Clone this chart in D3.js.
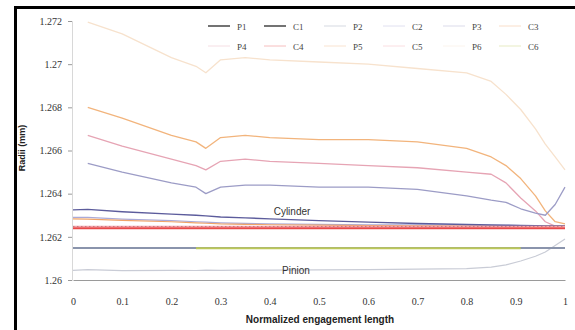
<!DOCTYPE html>
<html>
<head>
<meta charset="utf-8">
<script src="https://cdn.jsdelivr.net/npm/d3@7"></script>
<style>
  body { margin: 0; background: #fff; }
  svg { display: block; font-family: "Liberation Sans", Arial, sans-serif; }
</style>
</head>
<body>
<svg width="575" height="330"></svg>
<script>
// normalized engagement length samples
const xs = [0, 0.03, 0.1, 0.2, 0.25, 0.27, 0.3, 0.35, 0.4, 0.5, 0.6, 0.7, 0.8, 0.85, 0.88, 0.91, 0.94, 0.96, 0.98, 1.0];

// radii (mm) per series
const P6 = [null, 1.27195, 1.2714, 1.2703, 1.2699, 1.2696, 1.2702, 1.2703, 1.2702, 1.2701, 1.2700, 1.2698, 1.2696, 1.2692, 1.2686, 1.2679, 1.2670, 1.2663, 1.2657, 1.2651];
const P5 = [null, 1.2680, 1.2675, 1.2667, 1.2664, 1.2661, 1.2666, 1.2667, 1.2666, 1.2665, 1.2665, 1.2664, 1.2661, 1.2657, 1.2653, 1.2647, 1.2639, 1.2632, 1.2627, 1.2626];
const P4 = [null, 1.2667, 1.2662, 1.2656, 1.2653, 1.2651, 1.2655, 1.2656, 1.2655, 1.2654, 1.2653, 1.2652, 1.2650, 1.2649, 1.2645, 1.2638, 1.2632, 1.2627, 1.2625, 1.2625];
const P3 = [null, 1.2654, 1.2650, 1.2645, 1.2643, 1.2640, 1.2643, 1.2644, 1.2644, 1.2643, 1.2643, 1.2642, 1.2639, 1.2637, 1.2636, 1.2633, 1.2631, 1.2630, 1.2635, 1.2643];
const C1 = [1.26325, 1.26327, 1.26316, 1.26305, 1.2630, 1.26297, 1.26292, 1.26288, 1.26283, 1.26275, 1.26268, 1.26262, 1.26257, 1.26255, 1.26254, 1.26253, 1.26252, 1.26251, 1.2625, 1.2625];
const C2 = [1.2629, 1.2629, 1.26282, 1.26275, 1.2627, 1.26268, 1.26265, 1.26262, 1.2626, 1.26258, 1.26256, 1.26255, 1.26254, 1.26253, 1.26253, 1.26252, 1.26252, 1.26251, 1.26251, 1.2625];
const C3 = [1.26283, 1.26282, 1.26276, 1.2627, 1.26265, 1.26263, 1.2626, 1.26258, 1.26256, 1.26254, 1.26252, 1.26251, 1.2625, 1.2625, 1.2625, 1.2625, 1.2625, 1.2625, 1.2625, 1.2625];
const C5 = [1.26248, 1.26248, 1.26248, 1.26248, 1.26248, 1.26248, 1.26248, 1.26248, 1.26248, 1.26248, 1.26248, 1.26248, 1.26248, 1.26248, 1.26248, 1.26248, 1.26248, 1.26248, 1.26248, 1.26248];
const C4 = [1.2624, 1.2624, 1.2624, 1.2624, 1.2624, 1.2624, 1.2624, 1.2624, 1.2624, 1.2624, 1.2624, 1.2624, 1.2624, 1.2624, 1.2624, 1.2624, 1.2624, 1.2624, 1.2624, 1.2624];
const P2 = [1.26148, 1.26148, 1.26148, 1.26148, 1.26148, 1.26148, 1.26148, 1.26148, 1.26148, 1.26148, 1.26148, 1.26148, 1.26148, 1.26148, 1.26148, 1.26148, 1.26148, 1.26148, 1.26148, 1.26148];
const C6 = [null, null, null, null, 1.26147, 1.26147, 1.26147, 1.26147, 1.26147, 1.26147, 1.26147, 1.26147, 1.26147, 1.26147, 1.26147, 1.26147, null, null, null, null];
const P1 = [1.26045, 1.26048, 1.26043, 1.26045, 1.26044, 1.26046, 1.26045, 1.26046, 1.26046, 1.26047, 1.26048, 1.2605, 1.26053, 1.2606, 1.2607, 1.26088, 1.2611, 1.2613, 1.2616, 1.2619];

const legendNames = ["P1", "C1", "P2", "C2", "P3", "C3", "P4", "C4", "P5", "C5", "P6", "C6"];
const yTicks = [1.26, 1.262, 1.264, 1.266, 1.268, 1.27, 1.272];
const yTickLabels = ["1.26", "1.262", "1.264", "1.266", "1.268", "1.27", "1.272"];
const xTicks = [0, 0.1, 0.2, 0.3, 0.4, 0.5, 0.6, 0.7, 0.8, 0.9, 1];
const xTickLabels = ["0", "0.1", "0.2", "0.3", "0.4", "0.5", "0.6", "0.7", "0.8", "0.9", "1"];

const series = {
  P1: { v: P1, color: "#c9ccd6", w: 1.2 },
  C1: { v: C1, color: "#5c5c9c", w: 1.4 },
  P2: { v: P2, color: "#8a94ac", w: 2 },
  C2: { v: C2, color: "#aaaad8", w: 1.2 },
  P3: { v: P3, color: "#9c9cc6", w: 1.3 },
  C3: { v: C3, color: "#f0a468", w: 1.2 },
  P4: { v: P4, color: "#e6a4b4", w: 1.3 },
  C4: { v: C4, color: "#e84848", w: 2 },
  P5: { v: P5, color: "#f2b47c", w: 1.3 },
  C5: { v: C5, color: "#f4a4ac", w: 1.5 },
  P6: { v: P6, color: "#f7e2cd", w: 1.3 },
  C6: { v: C6, color: "#bcc858", w: 2 }
};
const drawOrder = ["P6", "P5", "P4", "P3", "P1", "P2", "C6", "C2", "C3", "C1", "C5", "C4"];

const svg = d3.select("svg");

const x = d3.scaleLinear().domain([0, 1]).range([73, 565]);
const y = d3.scaleLinear().domain([1.26, 1.272]).range([280, 21]);

// frame (only top and left edges show in the crop)
svg.append("path")
  .attr("d", "M15.5,330 L15.5,7.5 L575,7.5")
  .attr("fill", "none")
  .attr("stroke", "#000")
  .attr("stroke-width", 3);

// y axis
const yAxis = svg.append("g")
  .attr("transform", "translate(72,0)")
  .call(d3.axisLeft(y).tickValues(yTicks).tickSize(4).tickPadding(6)
    .tickFormat((d, i) => yTickLabels[i]));
yAxis.select(".domain").attr("stroke", "#d8d8d8");
yAxis.selectAll(".tick line").attr("stroke", "#999");
yAxis.selectAll(".tick text").attr("fill", "#333").style("font-size", "10px")
  .style("font-family", "'Liberation Serif', serif");

// x axis
const xAxis = svg.append("g")
  .attr("transform", "translate(0,280)")
  .call(d3.axisBottom(x).tickValues(xTicks).tickSize(0).tickPadding(18)
    .tickFormat((d, i) => xTickLabels[i]));
xAxis.select(".domain").attr("stroke", "#9a9a9a");
xAxis.selectAll(".tick text").attr("fill", "#333").style("font-size", "10px")
  .style("font-family", "'Liberation Serif', serif");

// lines
const line = d3.line()
  .defined(d => d[1] !== null)
  .x(d => x(d[0]))
  .y(d => y(d[1]));

drawOrder.forEach(function (name) {
  const s = series[name];
  svg.append("path")
    .datum(xs.map((xv, i) => [xv, s.v[i]]))
    .attr("fill", "none")
    .attr("stroke", s.color)
    .attr("stroke-width", s.w)
    .attr("stroke-linejoin", "round")
    .attr("d", line);
});

// dotted overlay on C5
svg.append("path")
  .datum(xs.map((xv, i) => [xv, C5[i]]))
  .attr("fill", "none")
  .attr("stroke", "#b86a6a")
  .attr("stroke-width", 1)
  .attr("stroke-dasharray", "1.5,2.5")
  .attr("opacity", 0.7)
  .attr("d", line);

// annotations
svg.append("text")
  .attr("x", 292).attr("y", 215)
  .attr("text-anchor", "middle")
  .style("font-size", "10px")
  .attr("fill", "#333")
  .text("Cylinder");

svg.append("text")
  .attr("x", 296).attr("y", 274)
  .attr("text-anchor", "middle")
  .style("font-size", "10px")
  .attr("fill", "#333")
  .text("Pinion");

// axis titles
svg.append("text")
  .attr("x", 320).attr("y", 323)
  .attr("text-anchor", "middle")
  .style("font-size", "10px")
  .style("font-weight", "bold")
  .attr("fill", "#222")
  .text("Normalized engagement length");

svg.append("text")
  .attr("transform", "translate(25,148) rotate(-90)")
  .attr("text-anchor", "middle")
  .style("font-size", "9px")
  .style("font-weight", "bold")
  .attr("fill", "#222")
  .text("Radii (mm)");

// legend, 2 rows x 6 columns
const legX = [237, 293, 353, 412, 472, 528];
const legY = [26, 46];
legendNames.forEach(function (name, i) {
  const col = i % 6;
  const row = Math.floor(i / 6);
  const lx = legX[col];
  const ly = legY[row];
  const dark = name === "P1" || name === "C1";
  svg.append("line")
    .attr("x1", lx - 29).attr("x2", lx - 7)
    .attr("y1", ly).attr("y2", ly)
    .attr("stroke", dark ? "#444" : series[name].color)
    .attr("stroke-width", dark ? 1.5 : 1)
    .attr("opacity", dark ? 1 : 0.35);
  svg.append("text")
    .attr("x", lx).attr("y", ly + 3.5)
    .style("font-size", "9px")
    .style("font-family", "'Liberation Serif', serif")
    .attr("fill", "#444")
    .text(name);
});
</script>
</body>
</html>
